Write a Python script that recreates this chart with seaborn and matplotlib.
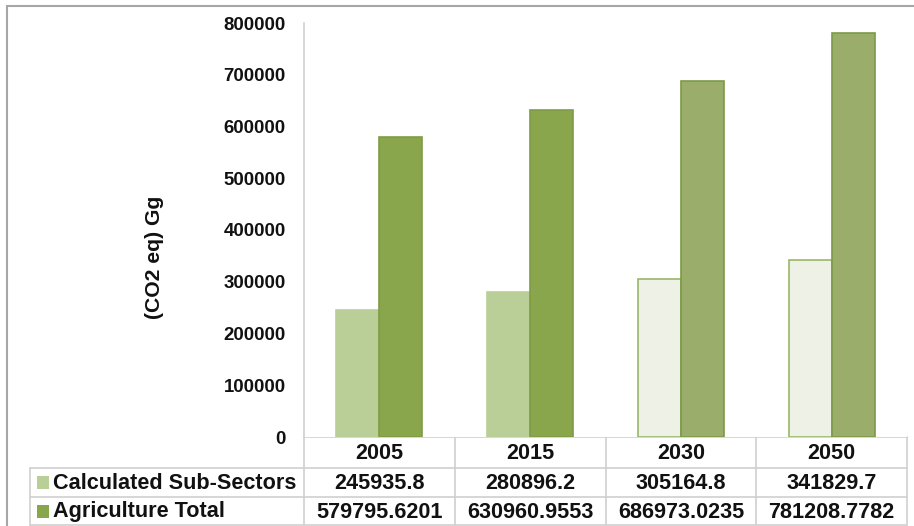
import matplotlib
matplotlib.use("Agg")
import matplotlib.pyplot as plt
import seaborn as sns
import pandas as pd
from matplotlib.lines import Line2D
from matplotlib.patches import Rectangle

years = ["2005", "2015", "2030", "2050"]
series_names = ["Calculated Sub-Sectors", "Agriculture Total"]
sub_sectors = [245935.8, 280896.2, 305164.8, 341829.7]
agri_total = [579795.6201, 630960.9553, 686973.0235, 781208.7782]
sub_labels = ["245935.8", "280896.2", "305164.8", "341829.7"]
total_labels = ["579795.6201", "630960.9553", "686973.0235", "781208.7782"]
y_ticks = [0, 100000, 200000, 300000, 400000, 500000, 600000, 700000, 800000]

sns.set_theme(style="white")
plt.rcParams["font.family"] = ["Liberation Sans", "DejaVu Sans"]

W, H = 914, 526
fig = plt.figure(figsize=(W / 100, H / 100), dpi=100)

# plot area in pixel geometry
px_left, px_right, px_top, px_bottom = 304, 907, 23, 437
ax = fig.add_axes([px_left / W, 1 - px_bottom / H,
                   (px_right - px_left) / W, (px_bottom - px_top) / H])

df = pd.DataFrame({
    "year": years * 2,
    "series": [series_names[0]] * 4 + [series_names[1]] * 4,
    "value": sub_sectors + agri_total,
})
sns.barplot(data=df, x="year", y="value", hue="series", order=years,
            hue_order=series_names, width=0.57, legend=False, ax=ax,
            palette=["#b8ce96", "#8aa64c"], saturation=1)

# solid fills for measured years, lighter fills for projections
face_sub = ["#b9cf97", "#b9cf97", "#eef2e6", "#eef2e6"]
edge_sub = ["#b9cf97", "#b9cf97", "#9bb66a", "#9bb66a"]
face_tot = ["#8aa64c", "#8aa64c", "#9aad6b", "#9aad6b"]
edge_tot = ["#7f9c44", "#7f9c44", "#7b9946", "#7b9946"]
bars = list(ax.patches)
for i, p in enumerate(bars[:4]):
    p.set_facecolor(face_sub[i]); p.set_edgecolor(edge_sub[i]); p.set_linewidth(1.2)
for i, p in enumerate(bars[4:8]):
    p.set_facecolor(face_tot[i]); p.set_edgecolor(edge_tot[i]); p.set_linewidth(1.2)

ax.set_xlim(-0.5, 3.5)
ax.set_ylim(0, 800000)
ax.set_yticks(y_ticks)
ax.set_yticklabels([str(v) for v in y_ticks], fontsize=13.4, fontweight="bold")
ax.tick_params(axis="y", length=0, pad=13, labelcolor="#111111")
ax.set_xticks([])
ax.set_xlabel("")
ax.set_ylabel("")
for s in ["top", "right", "bottom"]:
    ax.spines[s].set_visible(False)
ax.spines["left"].set_color("#d0d0d0")
ax.spines["left"].set_linewidth(1.2)
ax.grid(False)

fig.text(155 / W, 1 - 257 / H, "(CO2 eq) Gg", rotation=90, ha="center",
         va="center", fontsize=15.2, fontweight="bold", color="#111111")

# overlay in pixel coordinates for the data table and outer frame
ov = fig.add_axes([0, 0, 1, 1], zorder=-1)
ov.set_xlim(0, W)
ov.set_ylim(H, 0)
ov.axis("off")

grid_c = "#cfcfcf"
def hline(y, x0, x1, c=grid_c, lw=1.2):
    ov.add_line(Line2D([x0, x1], [y, y], color=c, lw=lw))
def vline(x, y0, y1, c=grid_c, lw=1.2):
    ov.add_line(Line2D([x, x], [y0, y1], color=c, lw=lw))

# outer chart frame
hline(6, 7, W, c="#a6a6a6", lw=1.5)
vline(7, 6, H, c="#a6a6a6", lw=1.5)

col_edges = [304, 455, 606, 756, 907]
row1_y, row2_y, row3_y, row_end = 437, 468, 497, 525
hline(row1_y, 304, 907)
hline(row2_y, 30, 907)
hline(row3_y, 30, 907)
hline(row_end, 30, 907)
vline(30, row2_y, row_end)
vline(304, row1_y, row_end)
for x in col_edges[1:]:
    vline(x, row1_y, row_end)

fs_table = 15.6
txt_kw = dict(ha="center", va="center", fontsize=fs_table, fontweight="bold",
              color="#111111")
for i, yr in enumerate(years):
    cx = (col_edges[i] + col_edges[i + 1]) / 2
    ov.text(cx, (row1_y + row2_y) / 2 + 1, yr, **txt_kw)
    ov.text(cx, (row2_y + row3_y) / 2 + 1, sub_labels[i], **txt_kw)
    ov.text(cx, (row3_y + row_end) / 2 + 1, total_labels[i], **txt_kw)

# legend keys inside the table
ov.add_patch(Rectangle((37, 476), 12, 13, facecolor="#b9cf97", edgecolor="none"))
ov.add_patch(Rectangle((37, 505), 12, 13, facecolor="#8aa64c", edgecolor="none"))
ov.text(53, (row2_y + row3_y) / 2 + 1, series_names[0], ha="left", va="center",
        fontsize=fs_table, fontweight="bold", color="#111111")
ov.text(53, (row3_y + row_end) / 2 + 1, series_names[1], ha="left", va="center",
        fontsize=fs_table, fontweight="bold", color="#111111")

fig.savefig("out.png", dpi=100, facecolor="white")
